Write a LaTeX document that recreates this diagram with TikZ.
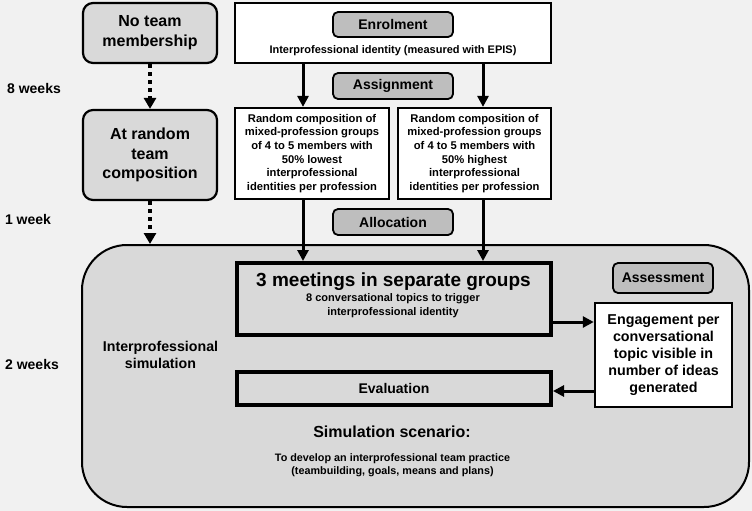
\documentclass[tikz,border=0pt]{standalone}
\usepackage{fontspec}
\setmainfont{Liberation Sans}
\usetikzlibrary{arrows.meta}
\definecolor{bgc}{HTML}{F1F1F1}
\definecolor{boxc}{HTML}{D9D9D9}
\definecolor{labc}{HTML}{BEBEBE}
\newcommand{\myfs}[2]{\fontsize{#1}{#2}\selectfont\bfseries}
\tikzset{
  graybox/.style={draw=black, line width=2.2pt, fill=boxc, rounded corners=10pt, align=center, inner sep=0pt},
  whitebox/.style={draw=black, line width=2.2pt, fill=white, align=center, inner sep=0pt},
  thickbox/.style={draw=black, line width=4pt, fill=boxc, inner sep=0pt},
  labbox/.style={draw=black, line width=1.8pt, fill=labc, rounded corners=5pt, inner sep=0pt, font=\myfs{14}{16}},
  txt/.style={align=center, inner sep=0pt},
  arr/.style={line width=3pt, -{Triangle[length=11pt,width=11pt]}},
  dotarr/.style={line width=4pt, dash pattern=on 4pt off 4pt, -{Triangle[length=11pt,width=12pt]}},
}

\begin{document}

\begin{tikzpicture}[x=1pt,y=-1pt]
\fill[bgc] (0,0) rectangle (752,511);
\useasboundingbox (0,0) rectangle (752,511);

% left column
\node[graybox, minimum width=134pt, minimum height=60pt, font=\myfs{16}{20}] (nomem) at (150,33) {No team\\membership};
\node[graybox, minimum width=134pt, minimum height=90pt, font=\myfs{16}{19.5}] (atrand) at (150,155) {At random\\team\\composition};

% time labels
\node[txt, font=\myfs{14}{16}] (w8) at (34,88) {8 weeks};
\node[txt, font=\myfs{14}{16}] (w1) at (28,219) {1 week};
\node[txt, font=\myfs{14}{16}] (w2) at (32,364) {2 weeks};

% enrolment
\node[whitebox, minimum width=316pt, minimum height=60pt] (enrol) at (393,33) {};
\node[labbox, minimum width=120pt, minimum height=25pt] (enrollab) at (393,24.5) {Enrolment};
\node[txt, font=\myfs{11}{13}] (epis) at (393,51) {Interprofessional identity (measured with EPIS)};
\node[labbox, minimum width=120pt, minimum height=26pt] (assignlab) at (393,86) {Assignment};

% random composition
\node[whitebox, minimum width=154pt, minimum height=91pt, font=\myfs{11.2}{13.6}] (randL) at (312,153.5)
  {Random composition of\\mixed-profession groups\\of 4 to 5 members with\\50\% lowest\\interprofessional\\identities per profession};
\node[whitebox, minimum width=153pt, minimum height=91pt, font=\myfs{11.2}{13.6}] (randR) at (474.5,153.5)
  {Random composition of\\mixed-profession groups\\of 4 to 5 members with\\50\% highest\\interprofessional\\identities per profession};
\node[labbox, minimum width=120pt, minimum height=26pt] (alloclab) at (393,222) {Allocation};

% simulation
\node[draw=black, line width=2pt, fill=boxc, rounded corners=45pt, minimum width=667pt, minimum height=262pt, inner sep=0pt] (big) at (415.5,376) {};
\node[txt, font=\myfs{14.2}{16.7}] (simlab) at (160.5,355) {Interprofessional\\simulation};
\node[thickbox, minimum width=314pt, minimum height=72pt] (meet) at (394,299) {};
\node[txt, font=\myfs{19}{22}] (meett) at (393.5,282) {3 meetings in separate groups};
\node[txt, font=\myfs{11}{14}] (meets) at (393,306) {8 conversational topics to trigger\\interprofessional identity};
\node[thickbox, minimum width=314pt, minimum height=33pt, font=\myfs{14}{16}] (eval) at (394,388.5) {Evaluation};
\node[labbox, minimum width=100pt, minimum height=30pt] (assess) at (663,278) {Assessment};
\node[whitebox, line width=2.5pt, minimum width=137pt, minimum height=104pt, font=\myfs{14.3}{17}] (engage) at (663.5,355)
  {Engagement per\\conversational\\topic visible in\\number of ideas\\generated};
\node[txt, font=\myfs{16}{19}] (scen) at (392,432) {Simulation scenario:};
\node[txt, font=\myfs{10.8}{13.4}] (scent) at (392.5,465) {To develop an interprofessional team practice\\(teambuilding, goals, means and plans)};

% helper coordinates
\coordinate (xL) at (303,0);
\coordinate (xR) at (483,0);
\coordinate (y1) at (0,322);
\coordinate (y2) at (0,391);

% connectors
\draw[dotarr] (nomem.south) -- (atrand.north);
\draw[dotarr] (atrand.south) -- (atrand.south |- big.north);
\draw[arr] (enrol.south -| xL) -- (randL.north -| xL);
\draw[arr] (enrol.south -| xR) -- (randR.north -| xR);
\draw[arr] (randL.south -| xL) -- (meet.north -| xL);
\draw[arr] (randR.south -| xR) -- (meet.north -| xR);
\draw[arr] (meet.east |- y1) -- (engage.west |- y1);
\draw[arr] (engage.west |- y2) -- (eval.east |- y2);
\end{tikzpicture}

\end{document}
